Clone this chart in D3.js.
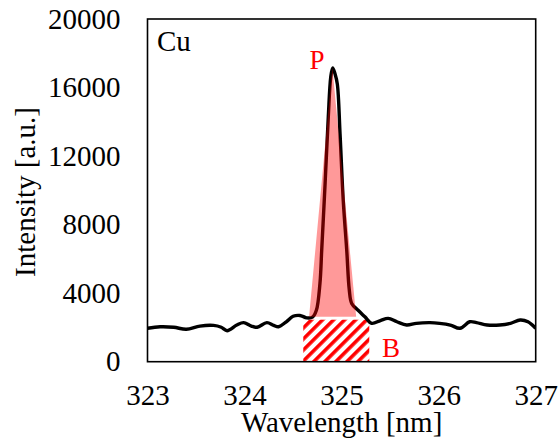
<!DOCTYPE html>
<html>
<head>
<meta charset="utf-8">
<script src="https://cdn.jsdelivr.net/npm/d3@7"></script>
<style>
  html, body { margin: 0; padding: 0; background: #fff; }
  svg text { font-family: "Liberation Serif", "Times New Roman", serif; }
</style>
</head>
<body>
<svg id="chart" width="558" height="441"></svg>
<script>
// Cu emission spectrum around the 324.75 nm line
const wavelength = [
  323.00, 323.13, 323.27, 323.40, 323.54, 323.68, 323.76, 323.82, 323.92, 323.99,
  324.07, 324.13, 324.23, 324.30, 324.35, 324.43, 324.50, 324.57, 324.64, 324.70,
  324.74, 324.777, 324.795, 324.83, 324.863, 324.888, 324.908, 324.932, 324.956, 324.984,
  325.017, 325.053, 325.079, 325.104, 325.17, 325.24, 325.31, 325.40, 325.48, 325.57,
  325.67, 325.77, 325.91, 326.01, 326.12, 326.22, 326.32, 326.39, 326.50, 326.63,
  326.74, 326.84, 326.92, 327.00
];
const intensity = [
  1950, 2040, 2010, 1890, 2080, 2120, 2010, 1810, 2140, 2280,
  2080, 2010, 2280, 2120, 2040, 2330, 2650, 2700, 2560, 2600,
  3000, 4575, 6500, 10400, 14300, 16600, 17150, 16800, 16200, 13300,
  9400, 6500, 4200, 3400, 3000, 2620, 2240, 2400, 2530, 2330,
  2140, 2240, 2280, 2240, 2140, 1950, 2330, 2280, 2140, 2140,
  2240, 2430, 2330, 1950
];

// Peak region P (shaded) and background region B (hatched)
const peakWavelength = [324.665, 324.905, 325.15];
const peakIntensity = [2620, 17150, 2620];
const bgWavelength = [324.605, 325.285];
const bgIntensity = 2450;

const xTicks = [323, 324, 325, 326, 327];
const yTicks = [0, 4000, 8000, 12000, 16000, 20000];

const svg = d3.select("#chart");
const plotLeft = 147.5, plotRight = 535.7, plotTop = 19, plotBottom = 361.7;
const fontSize = 29;

const x = d3.scaleLinear().domain([323, 327]).range([plotLeft, plotRight]);
const y = d3.scaleLinear().domain([0, 20000]).range([plotBottom, plotTop]);

const defs = svg.append("defs");
defs.append("clipPath").attr("id", "plotClip")
  .append("rect").attr("x", plotLeft).attr("y", plotTop)
  .attr("width", plotRight - plotLeft).attr("height", plotBottom - plotTop);

const pat = defs.append("pattern")
  .attr("id", "hatch")
  .attr("patternUnits", "userSpaceOnUse")
  .attr("width", 7.8).attr("height", 7.8)
  .attr("patternTransform", "rotate(45)");
pat.append("rect").attr("width", 7.8).attr("height", 7.8).attr("fill", "#fff");
pat.append("rect").attr("width", 3.6).attr("height", 7.8).attr("fill", "#ff0000");

const plot = svg.append("g").attr("clip-path", "url(#plotClip)");

// background window
plot.append("rect")
  .attr("x", x(bgWavelength[0]))
  .attr("y", y(bgIntensity))
  .attr("width", x(bgWavelength[1]) - x(bgWavelength[0]))
  .attr("height", y(0) - y(bgIntensity))
  .attr("fill", "url(#hatch)");

// spectrum
const pts = wavelength.map((w, i) => [w, intensity[i]]);
plot.append("path")
  .datum(pts)
  .attr("fill", "none")
  .attr("stroke", "#000")
  .attr("stroke-width", 3.4)
  .attr("stroke-linejoin", "round")
  .attr("d", d3.line().x(d => x(d[0])).y(d => y(d[1])).curve(d3.curveCatmullRom.alpha(0.5)));

// peak area, translucent over the line
const peakPts = peakWavelength.map((w, i) => [w, peakIntensity[i]]);
plot.append("path")
  .attr("fill", "rgba(255,0,0,0.4)")
  .attr("stroke", "none")
  .attr("d", d3.line().x(d => x(d[0])).y(d => y(d[1]))(peakPts) + "Z");

// frame
svg.append("rect")
  .attr("x", plotLeft).attr("y", plotTop)
  .attr("width", plotRight - plotLeft).attr("height", plotBottom - plotTop)
  .attr("fill", "none").attr("stroke", "#000").attr("stroke-width", 1.6);

// axes (labels only)
const yAxis = svg.append("g")
  .attr("transform", `translate(${plotLeft},0)`)
  .call(d3.axisLeft(y).tickValues(yTicks).tickSize(0).tickPadding(27).tickFormat(d3.format("d")));
const xAxis = svg.append("g")
  .attr("transform", `translate(0,${plotBottom})`)
  .call(d3.axisBottom(x).tickValues(xTicks).tickSize(0).tickPadding(23).tickFormat(d3.format("d")));
[yAxis, xAxis].forEach(g => {
  g.select(".domain").remove();
  g.selectAll("text")
    .attr("font-family", "Liberation Serif, Times New Roman, serif")
    .attr("font-size", fontSize)
    .attr("fill", "#000");
});

svg.append("text")
  .attr("x", x(325)).attr("y", 432)
  .attr("text-anchor", "middle")
  .attr("font-size", fontSize)
  .text("Wavelength [nm]");

svg.append("text")
  .attr("transform", "translate(35,192) rotate(-90)")
  .attr("text-anchor", "middle")
  .attr("font-size", fontSize)
  .text("Intensity [a.u.]");

svg.append("text")
  .attr("x", 157).attr("y", 51)
  .attr("font-size", fontSize)
  .text("Cu");

svg.append("text")
  .attr("x", 317).attr("y", 69)
  .attr("text-anchor", "middle")
  .attr("font-size", 27)
  .attr("fill", "#ff0000")
  .text("P");

svg.append("text")
  .attr("x", 382).attr("y", 357)
  .attr("font-size", 27)
  .attr("fill", "#ff0000")
  .text("B");
</script>
</body>
</html>
